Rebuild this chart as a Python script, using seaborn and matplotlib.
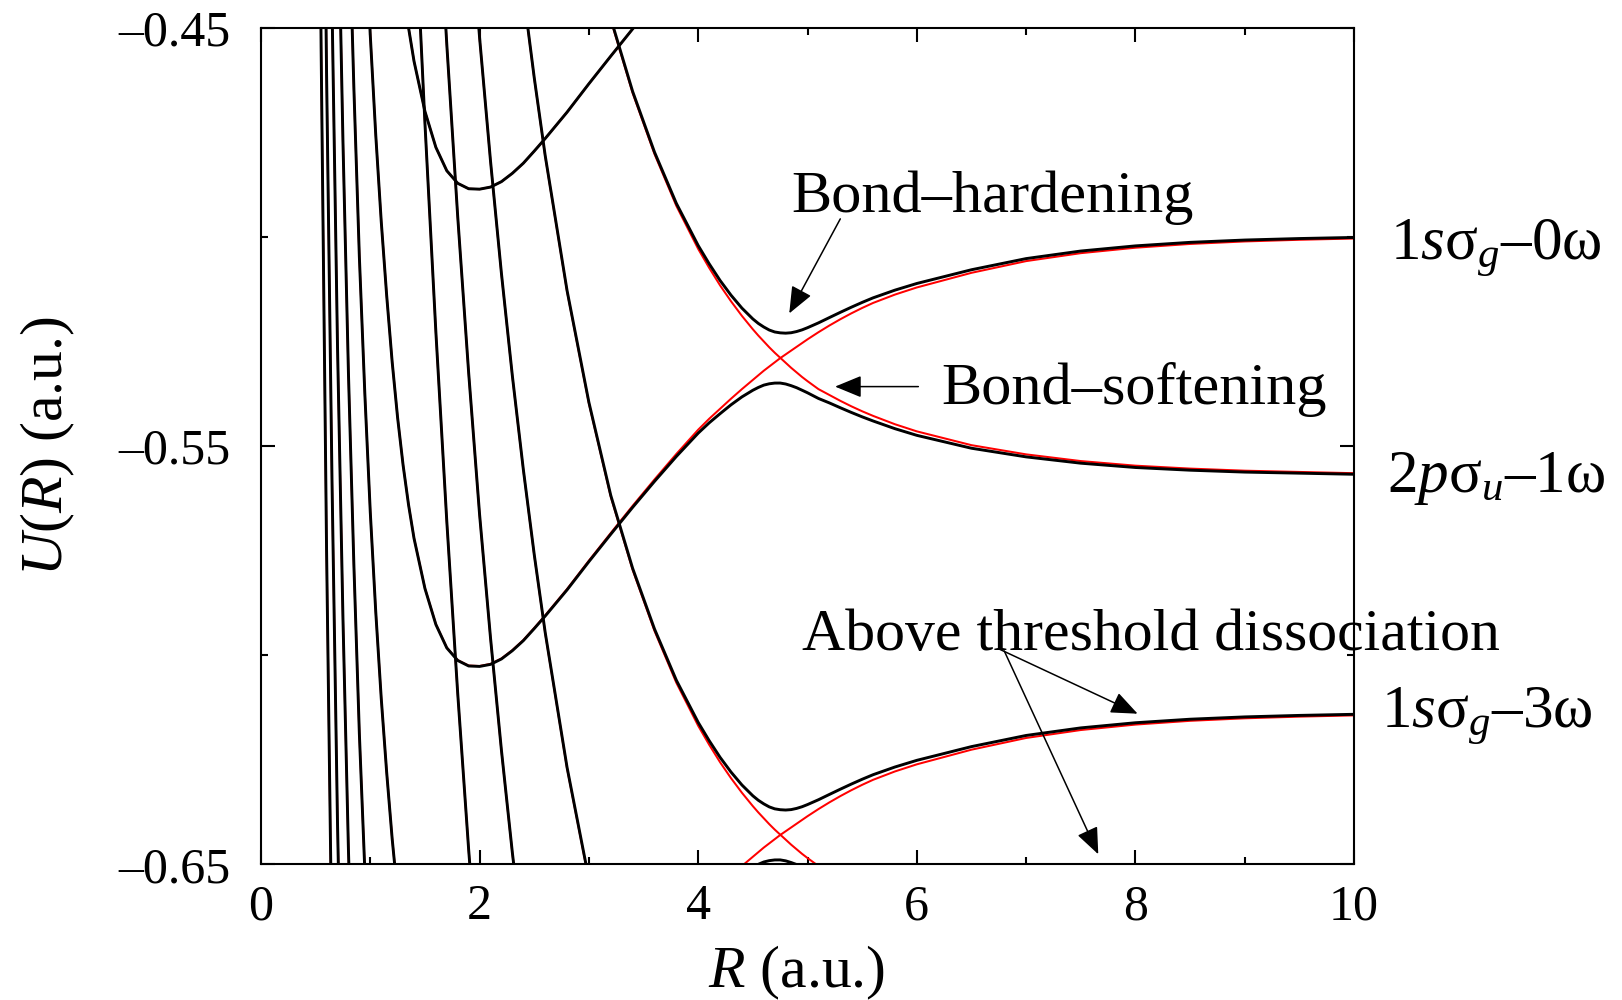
import numpy as np
import pandas as pd
import matplotlib
matplotlib.use("Agg")
import matplotlib.pyplot as plt
import seaborn as sns

# Internuclear distance grid (a.u.)
R = [0.50, 0.55, 0.60, 0.65, 0.70, 0.75, 0.80, 0.85, 0.90, 0.95,
     1.00, 1.05, 1.10, 1.15, 1.20, 1.25, 1.30, 1.35, 1.40, 1.50,
     1.60, 1.70, 1.80, 1.90, 2.00, 2.10, 2.20, 2.30, 2.40, 2.50,
     2.60, 2.80, 3.00, 3.20, 3.40, 3.60, 3.80, 4.00, 4.10, 4.20,
     4.30, 4.40, 4.50, 4.55, 4.60, 4.65, 4.70, 4.75, 4.80, 4.85,
     4.90, 4.95, 5.00, 5.10, 5.20, 5.30, 5.40, 5.50, 5.60, 5.80,
     6.00, 6.50, 7.00, 7.50, 8.00, 8.50, 9.00, 9.50, 10.00]

# H2+ 1s sigma_g potential curve (a.u.)
U_1s_sigma_g = [0.2665, 0.1157, -0.0048, -0.1027, -0.1839, -0.2492, -0.3044, -0.3505, -0.3907, -0.4234,
                -0.4518, -0.4756, -0.4962, -0.5140, -0.5298, -0.5432, -0.5545, -0.5640, -0.5720, -0.5840,
                -0.5926, -0.5982, -0.6012, -0.6025, -0.6026, -0.6021, -0.6008, -0.5988, -0.5964, -0.5935,
                -0.5905, -0.5842, -0.5774, -0.5708, -0.5643, -0.5580, -0.5519, -0.5461, -0.5435, -0.5411,
                -0.5387, -0.5364, -0.5342, -0.5331, -0.5320, -0.5310, -0.5300, -0.5290, -0.5281, -0.5272,
                -0.5263, -0.5254, -0.5245, -0.5228, -0.5212, -0.5197, -0.5183, -0.5170, -0.5158, -0.5138,
                -0.5121, -0.5086, -0.5058, -0.5039, -0.5026, -0.5017, -0.5011, -0.5007, -0.5004]

# H2+ 2p sigma_u potential curve (a.u.)
U_2p_sigma_u = [0.9248, 0.8573, 0.7930, 0.7318, 0.6735, 0.6180, 0.5650, 0.5146, 0.4666, 0.4208,
                0.3772, 0.3357, 0.2961, 0.2584, 0.2225, 0.1883, 0.1557, 0.1247, 0.0951, 0.0401,
                -0.0098, -0.0551, -0.0963, -0.1336, -0.1675, -0.1970, -0.2239, -0.2484, -0.2707, -0.2911,
                -0.3097, -0.3420, -0.3688, -0.3911, -0.4086, -0.4232, -0.4356, -0.4459, -0.4504, -0.4546,
                -0.4584, -0.4619, -0.4651, -0.4666, -0.4680, -0.4694, -0.4707, -0.4719, -0.4731, -0.4743,
                -0.4754, -0.4765, -0.4775, -0.4794, -0.4808, -0.4822, -0.4835, -0.4847, -0.4858, -0.4878,
                -0.4895, -0.4928, -0.4950, -0.4966, -0.4977, -0.4984, -0.4989, -0.4992, -0.4995]

# Photon energy (a.u.)
omega = 0.057

# Radiative coupling between neighbouring channels (a.u.)
coupling_R = [0.5, 4.75, 6.0, 8.0, 10.0]
coupling_V = [0.006, 0.006, 0.0058, 0.0048, 0.0038]

# Net photon numbers of the dressed channels
g_photons = [2, 0, -2, -4, -6, -8, -10]
u_photons = [-1, -3, -5, -7, -9]

x_ticks = [0, 2, 4, 6, 8, 10]
x_tick_labels = ["0", "2", "4", "6", "8", "10"]
y_ticks = [-0.65, -0.55, -0.45]
y_tick_labels = ["\u20130.65", "\u20130.55", "\u20130.45"]

state_labels = ["1$s$\u03c3$_g$\u20130\u03c9",
                "2$p$\u03c3$_u$\u20131\u03c9",
                "1$s$\u03c3$_g$\u20133\u03c9"]
note_labels = ["Bond\u2013hardening", "Bond\u2013softening",
               "Above threshold dissociation"]

# ---------------------------------------------------------------------------
r = np.array(R)
ug = np.array(U_1s_sigma_g)
uu = np.array(U_2p_sigma_u)
v = np.interp(r, coupling_R, coupling_V)

diabatic = {}
for n in g_photons:
    diabatic[f"g{n}"] = ug + n * omega
for n in u_photons:
    diabatic[f"u{n}"] = uu + n * omega

# Field-dressed (adiabatic) curves: each g channel mixes with the u channel
# one photon below it.
adiabatic = {}
for n in g_photons:
    a = diabatic[f"g{n}"]
    if n - 1 in u_photons:
        b = diabatic[f"u{n - 1}"]
        mid = 0.5 * (a + b)
        half = np.sqrt((0.5 * (a - b)) ** 2 + v ** 2)
        adiabatic[f"lo{n}"] = mid - half
        adiabatic[f"hi{n}"] = mid + half
    else:
        adiabatic[f"g{n}"] = a


def long_frame(curves):
    return pd.concat(
        [pd.DataFrame({"R": r, "U": val, "curve": k}) for k, val in curves.items()],
        ignore_index=True)


red_df = long_frame(diabatic)
black_df = long_frame(adiabatic)

sns.set_theme(style="ticks")
plt.rcParams["font.family"] = ["Liberation Serif", "DejaVu Serif"]
plt.rcParams["mathtext.fontset"] = "custom"
plt.rcParams["mathtext.rm"] = "Liberation Serif"
plt.rcParams["mathtext.it"] = "Liberation Serif:italic"
plt.rcParams["mathtext.bf"] = "Liberation Serif:bold"
plt.rcParams["text.color"] = "black"
plt.rcParams["axes.labelcolor"] = "black"
plt.rcParams["xtick.color"] = "black"
plt.rcParams["ytick.color"] = "black"

fig = plt.figure(figsize=(16.22, 10.0), dpi=100)
ax = fig.add_axes([0.1609, 0.1357, 0.6739, 0.8366])

sns.lineplot(data=red_df, x="R", y="U", units="curve", estimator=None,
             sort=False, color="#ff0000", linewidth=1.45, ax=ax, legend=False)
sns.lineplot(data=black_df, x="R", y="U", units="curve", estimator=None,
             sort=False, color="black", linewidth=2.1, ax=ax, legend=False)

ax.set_xlim(0, 10)
ax.set_ylim(-0.65, -0.45)
ax.set_xticks(x_ticks)
ax.set_xticklabels(x_tick_labels)
ax.set_yticks(y_ticks)
ax.set_yticklabels(y_tick_labels)
ax.set_xticks([1, 3, 5, 7, 9], minor=True)
ax.set_yticks([-0.6, -0.5], minor=True)
ax.tick_params(which="both", direction="in", top=True, right=True,
               width=1.5, color="black", labelsize=36, labelcolor="black")
ax.tick_params(which="major", length=10)
ax.tick_params(which="minor", length=5)
ax.tick_params(axis="x", pad=14)
ax.tick_params(axis="y", pad=22)
for s in ax.spines.values():
    s.set_linewidth(1.5)
    s.set_color("black")

ax.set_xlabel("$R$ (a.u.)", fontsize=43, color="black")
ax.set_ylabel("$U$($R$) (a.u.)", fontsize=43, color="black")
ax.xaxis.set_label_coords(0.49, -0.095)
ax.yaxis.set_label_coords(-0.168, 0.5)

arrow = dict(arrowstyle="-|>,head_length=1.65,head_width=0.68",
             mutation_scale=10, lw=1.1, color="black",
             shrinkA=0, shrinkB=0)

ax.text(4.85, -0.4941, note_labels[0], fontsize=43.5, ha="left", va="baseline")
ax.annotate("", xy=(4.833, -0.5183), xytext=(5.30, -0.4957), arrowprops=arrow)

ax.text(6.22, -0.5400, note_labels[1], fontsize=43.5, ha="left", va="baseline")
ax.annotate("", xy=(5.252, -0.5358), xytext=(6.014, -0.5358), arrowprops=arrow)

ax.text(4.95, -0.5988, note_labels[2], fontsize=43, ha="left", va="baseline")
ax.annotate("", xy=(8.02, -0.6140), xytext=(6.75, -0.5985), arrowprops=arrow)
ax.annotate("", xy=(7.66, -0.6476), xytext=(6.80, -0.5990), arrowprops=arrow)

for (lx, ly), txt in zip([(10.33, -0.5055), (10.30, -0.5609), (10.25, -0.6173)],
                         state_labels):
    ax.text(lx, ly, txt, fontsize=44, ha="left", va="baseline", clip_on=False)

ax.set_facecolor("white")
fig.patch.set_facecolor("white")
fig.savefig("out.png", dpi=100, facecolor="white")
